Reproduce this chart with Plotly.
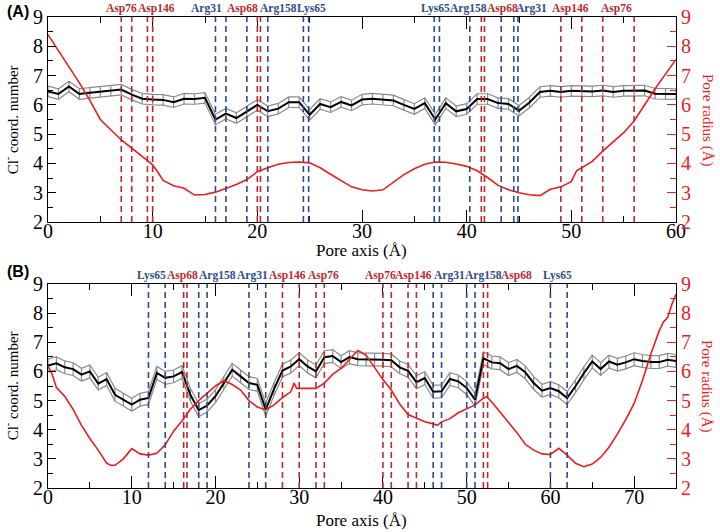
import plotly.graph_objects as go

# ---------------- Panel A data ----------------
pos_a = list(range(0, 61))
coord_a = [6.46, 6.37, 6.63, 6.37, 6.41, 6.44, 6.47, 6.52, 6.35, 6.21, 6.18, 6.17, 6.09, 6.21, 6.20, 6.24,
           5.50, 5.70, 5.55, 5.78, 6.00, 5.78, 5.87, 6.09, 6.09, 5.66, 6.03, 5.92, 6.10, 5.98, 6.18,
           6.21, 6.18, 6.15, 6.00, 5.86, 6.06, 5.50, 6.06, 5.78, 5.86, 6.20, 6.20, 6.06, 6.03, 5.80,
           6.08, 6.44, 6.48, 6.44, 6.48, 6.48, 6.46, 6.49, 6.44, 6.48, 6.48, 6.49, 6.38, 6.38, 6.37]
err_a = 0.18
rad_x_a = [0, 1, 2, 3, 4, 5, 6, 7, 8, 9, 10, 10.5, 11, 12, 13, 14, 15, 16, 17, 18, 19, 20, 21, 22, 23, 24,
           25, 26, 27, 28, 29, 30, 31, 32, 33, 34, 35, 36, 37, 38, 39, 40, 41, 42, 43, 44, 45, 46, 47,
           48, 49, 50, 50.5, 51, 52, 53, 54, 55, 56, 57, 58, 59, 60]
rad_a = [8.40, 7.85, 7.30, 6.75, 6.15, 5.50, 5.15, 4.80, 4.52, 4.25, 3.95, 3.70, 3.42, 3.24, 3.15, 2.92,
         2.94, 3.02, 3.14, 3.28, 3.45, 3.72, 3.85, 3.97, 4.03, 4.05, 4.02, 3.85, 3.63, 3.42, 3.20, 3.10,
         3.06, 3.10, 3.35, 3.62, 3.82, 3.97, 4.05, 4.04, 3.98, 3.90, 3.75, 3.52, 3.25, 3.10, 3.00, 2.93,
         2.90, 3.12, 3.20, 3.38, 3.75, 3.85, 4.07, 4.42, 4.72, 5.05, 5.45, 6.00, 6.55, 7.05, 7.55]
red_lines_a = [7, 8, 9.5, 10, 20, 20.3, 41.4, 41.7, 49, 51, 53, 56]
blue_lines_a = [16, 17, 19, 21, 24.4, 24.9, 36.9, 37.4, 40.3, 43.3, 44.5, 44.9]
labels_a = ["Asp76", "Asp146", "Arg31", "Asp68", "Arg158", "Lys65",
            "Lys65", "Arg158", "Asp68", "Arg31", "Asp146", "Asp76"]
labels_a_x = [7.0, 10.4, 15.1, 18.6, 22.0, 25.2, 37.0, 40.2, 43.4, 46.2, 49.9, 54.3]

# ---------------- Panel B data ----------------
pos_b = list(range(0, 76))
coord_b = [6.20, 6.28, 6.14, 6.08, 5.89, 6.00, 5.58, 5.74, 5.20, 5.03, 4.86, 5.03, 5.09,
           5.95, 5.78, 5.83, 5.98, 5.20, 4.67, 4.83, 5.15, 5.60, 6.06, 5.83, 5.60, 5.54, 4.69, 5.40,
           6.03, 6.17, 6.42, 6.17, 6.00, 6.49, 6.53, 6.32, 6.49, 6.42, 6.42,
           6.40, 6.40, 6.38, 6.14, 6.02, 5.63, 5.77, 5.30, 5.32, 5.74, 5.66, 5.43, 5.03, 6.45, 6.31,
           6.28, 6.08, 6.19, 5.97, 5.60, 5.34, 5.43, 5.32, 5.09, 5.49, 5.94, 6.34, 6.08, 6.34, 6.23,
           6.31, 6.42, 6.36, 6.32, 6.32, 6.40, 6.36]
err_b = 0.22
rad_x_b = [0, 0.5, 1, 2, 3, 4, 5, 6, 7, 7.5, 8, 9, 10, 11, 12, 13, 14, 15, 16, 17, 18, 19, 20, 21, 22,
           23, 24, 25, 26, 27, 28, 29, 29.4, 29.7, 31, 32, 33, 34, 35, 36, 37, 38, 39, 40, 41, 42, 43,
           44, 45, 46, 46.5, 47, 48, 49, 50, 51, 52, 52.4, 53, 54, 55, 56, 57, 58, 59, 60, 61, 62, 63,
           64, 65, 66, 67, 68, 69, 70, 71, 72, 73, 73.5, 74, 74.5, 75]
rad_b = [6.20, 5.90, 5.45, 5.15, 4.70, 4.15, 3.70, 3.30, 2.85, 2.78, 2.78, 3.00, 3.35, 3.17, 3.13,
         3.19, 3.48, 3.95, 4.30, 4.70, 5.00, 5.25, 5.50, 5.68, 5.55, 5.36, 5.00, 4.78, 4.68, 4.85,
         5.10, 5.30, 5.60, 5.42, 5.42, 5.42, 5.60, 5.90, 6.10, 6.40, 6.72, 6.55, 6.12, 5.72, 5.36,
         4.88, 4.52, 4.40, 4.27, 4.20, 4.15, 4.27, 4.38, 4.58, 4.72, 4.85, 5.08, 5.13, 4.95, 4.60,
         4.25, 3.90, 3.50, 3.30, 3.17, 3.15, 3.36, 3.13, 2.85, 2.73, 2.82, 3.05, 3.40, 3.85, 4.35,
         4.90, 5.70, 6.60, 7.40, 7.70, 7.85, 8.30, 8.65]
red_lines_b = [16.2, 16.6, 28, 30, 32, 33, 40, 41, 43, 44, 52, 52.5]
blue_lines_b = [12, 14, 18, 19, 24, 26, 46, 47, 50, 51, 60, 62]
labels_b = ["Lys65", "Asp68", "Arg158", "Arg31", "Asp146", "Asp76",
            "Asp76", "Asp146", "Arg31", "Arg158", "Asp68", "Lys65"]
labels_b_x = [12.4, 16.1, 20.2, 24.4, 28.6, 32.9, 39.7, 43.7, 48.0, 52.0, 56.0, 60.9]

RED_RES = "#b82a2e"
BLUE_RES = "#2d4b8a"
RADIUS = "#ee1c1c"
GREY = "#8a8a8a"
SERIF = "Liberation Serif, Times New Roman, serif"

fig = go.Figure()


def add_panel(xs, ys, err, rx, ry, xa, ya, ya2):
    lo = [v - err for v in ys]
    hi = [v + err for v in ys]
    fig.add_trace(go.Scatter(x=rx, y=ry, mode="lines", line=dict(color=RADIUS, width=1.6),
                             xaxis=xa, yaxis=ya2, showlegend=False, hoverinfo="skip"))
    for band in (lo, hi):
        fig.add_trace(go.Scatter(x=xs, y=band, mode="lines", line=dict(color=GREY, width=1.2),
                                 xaxis=xa, yaxis=ya, showlegend=False, hoverinfo="skip"))
    fig.add_trace(go.Scatter(x=xs, y=ys, mode="lines", line=dict(color="black", width=2),
                             error_y=dict(type="constant", value=err, color=GREY, thickness=1.2, width=0),
                             xaxis=xa, yaxis=ya, showlegend=False))


add_panel(pos_a, coord_a, err_a, rad_x_a, rad_a, "x", "y", "y2")
add_panel(pos_b, coord_b, err_b, rad_x_b, rad_b, "x2", "y3", "y4")

shapes = []
for xr, yr, reds, blues in (("x", "y", red_lines_a, blue_lines_a), ("x2", "y3", red_lines_b, blue_lines_b)):
    for v in reds:
        shapes.append(dict(type="line", xref=xr, yref=yr, x0=v, x1=v, y0=2, y1=9,
                           line=dict(color=RED_RES, width=1.6, dash="6px,4px"), layer="above"))
    for v in blues:
        shapes.append(dict(type="line", xref=xr, yref=yr, x0=v, x1=v, y0=2, y1=9,
                           line=dict(color=BLUE_RES, width=1.6, dash="6px,4px"), layer="above"))

# geometry in window pixels (page body margin is removed below, so figure sits at 0,0)
FW, FH = 720, 532
PL, PR, PT, PB = 47.7, 676, 17, 488
L = PL
R = FW - PR
T = PT
B = FH - PB
H = FH - T - B
W = FW - L - R


def py(p):
    return (FH - B - p) / H


def px(p):
    return (p - L) / W


annotations = []
for labs, lx, xr, yy in ((labels_a, labels_a_x, "x", py(8)), (labels_b, labels_b_x, "x2", py(275))):
    for t, xv in zip(labs, lx):
        annotations.append(dict(text=f"<b>{t}</b>", x=xv, y=yy, xref=xr, yref="paper",
                                showarrow=False, xanchor="center", yanchor="middle",
                                font=dict(family=SERIF, size=11.5,
                                          color=RED_RES if t.startswith("Asp") else BLUE_RES)))

for t, yc in (("(A)", 11), ("(B)", 271)):
    annotations.append(dict(text=f"<b>{t}</b>", x=px(18), y=py(yc), xref="paper", yref="paper",
                            showarrow=False, xanchor="center", yanchor="middle",
                            font=dict(family="Liberation Sans", size=16, color="black")))

for yc in (250, 520):
    annotations.append(dict(text="Pore axis (Å)", x=px(361), y=py(yc), xref="paper", yref="paper",
                            showarrow=False, xanchor="center", yanchor="middle",
                            font=dict(family=SERIF, size=17, color="black")))
for yc in (120, 386):
    annotations.append(dict(text="Cl<sup>-</sup> coord. number", x=px(11), y=py(yc), xref="paper",
                            yref="paper", showarrow=False, textangle=-90, xanchor="center",
                            yanchor="middle", font=dict(family=SERIF, size=15, color="black")))
    annotations.append(dict(text="Pore radius (Å)", x=px(707), y=py(yc), xref="paper",
                            yref="paper", showarrow=False, textangle=90, xanchor="center",
                            yanchor="middle", font=dict(family=SERIF, size=15, color=RADIUS)))

dom_a = [py(222), py(17)]
dom_b = [py(488), py(284)]

tickfont = dict(family=SERIF, size=20, color="black")


def xaxis(rng, dom_anchor):
    return dict(range=rng, domain=[0, 1], anchor=dom_anchor, showgrid=False, zeroline=False,
                showline=True, linecolor="black", linewidth=1.2, mirror="ticks", automargin=False,
                ticks="inside", ticklen=12, tickwidth=1, tickcolor="black", dtick=10, tick0=0,
                ticklabelstandoff=-9,
                minor=dict(ticks="inside", ticklen=6, dtick=5, tickcolor="black", showgrid=False),
                tickfont=tickfont)


def yleft(dom, anchor):
    return dict(range=[2, 9], domain=dom, anchor=anchor, showgrid=False, zeroline=False,
                showline=True, linecolor="black", linewidth=1.2, mirror=True, automargin=False,
                ticks="inside", ticklen=8, tickcolor="black", dtick=1,
                minor=dict(ticks="inside", ticklen=5, dtick=0.5, tickcolor="black", showgrid=False),
                tickfont=tickfont)


def yright(over, anchor):
    return dict(range=[2, 9], overlaying=over, side="right", anchor=anchor, showgrid=False,
                zeroline=False, showline=True, linecolor="black", linewidth=1.2, automargin=False,
                ticks="inside", ticklen=9, tickcolor=RADIUS, tickwidth=1.2, dtick=1,
                minor=dict(ticks="inside", ticklen=6, dtick=0.5, tickcolor=RADIUS, showgrid=False),
                tickfont=dict(family=SERIF, size=20, color=RADIUS))


fig.update_layout(
    width=FW, height=FH,
    margin=dict(l=L, r=R, t=T, b=B, autoexpand=False),
    paper_bgcolor="white", plot_bgcolor="white",
    showlegend=False,
    xaxis=xaxis([0, 60], "y"),
    yaxis=yleft(dom_a, "x"),
    yaxis2=yright("y", "x"),
    xaxis2=xaxis([0, 75], "y3"),
    yaxis3=yleft(dom_b, "x2"),
    yaxis4=yright("y3", "x2"),
    shapes=shapes,
    annotations=annotations,
)

fig.write_html("out.html", config={"displayModeBar": False},
               post_script="document.body.style.margin='0';document.body.style.overflow='hidden';")
